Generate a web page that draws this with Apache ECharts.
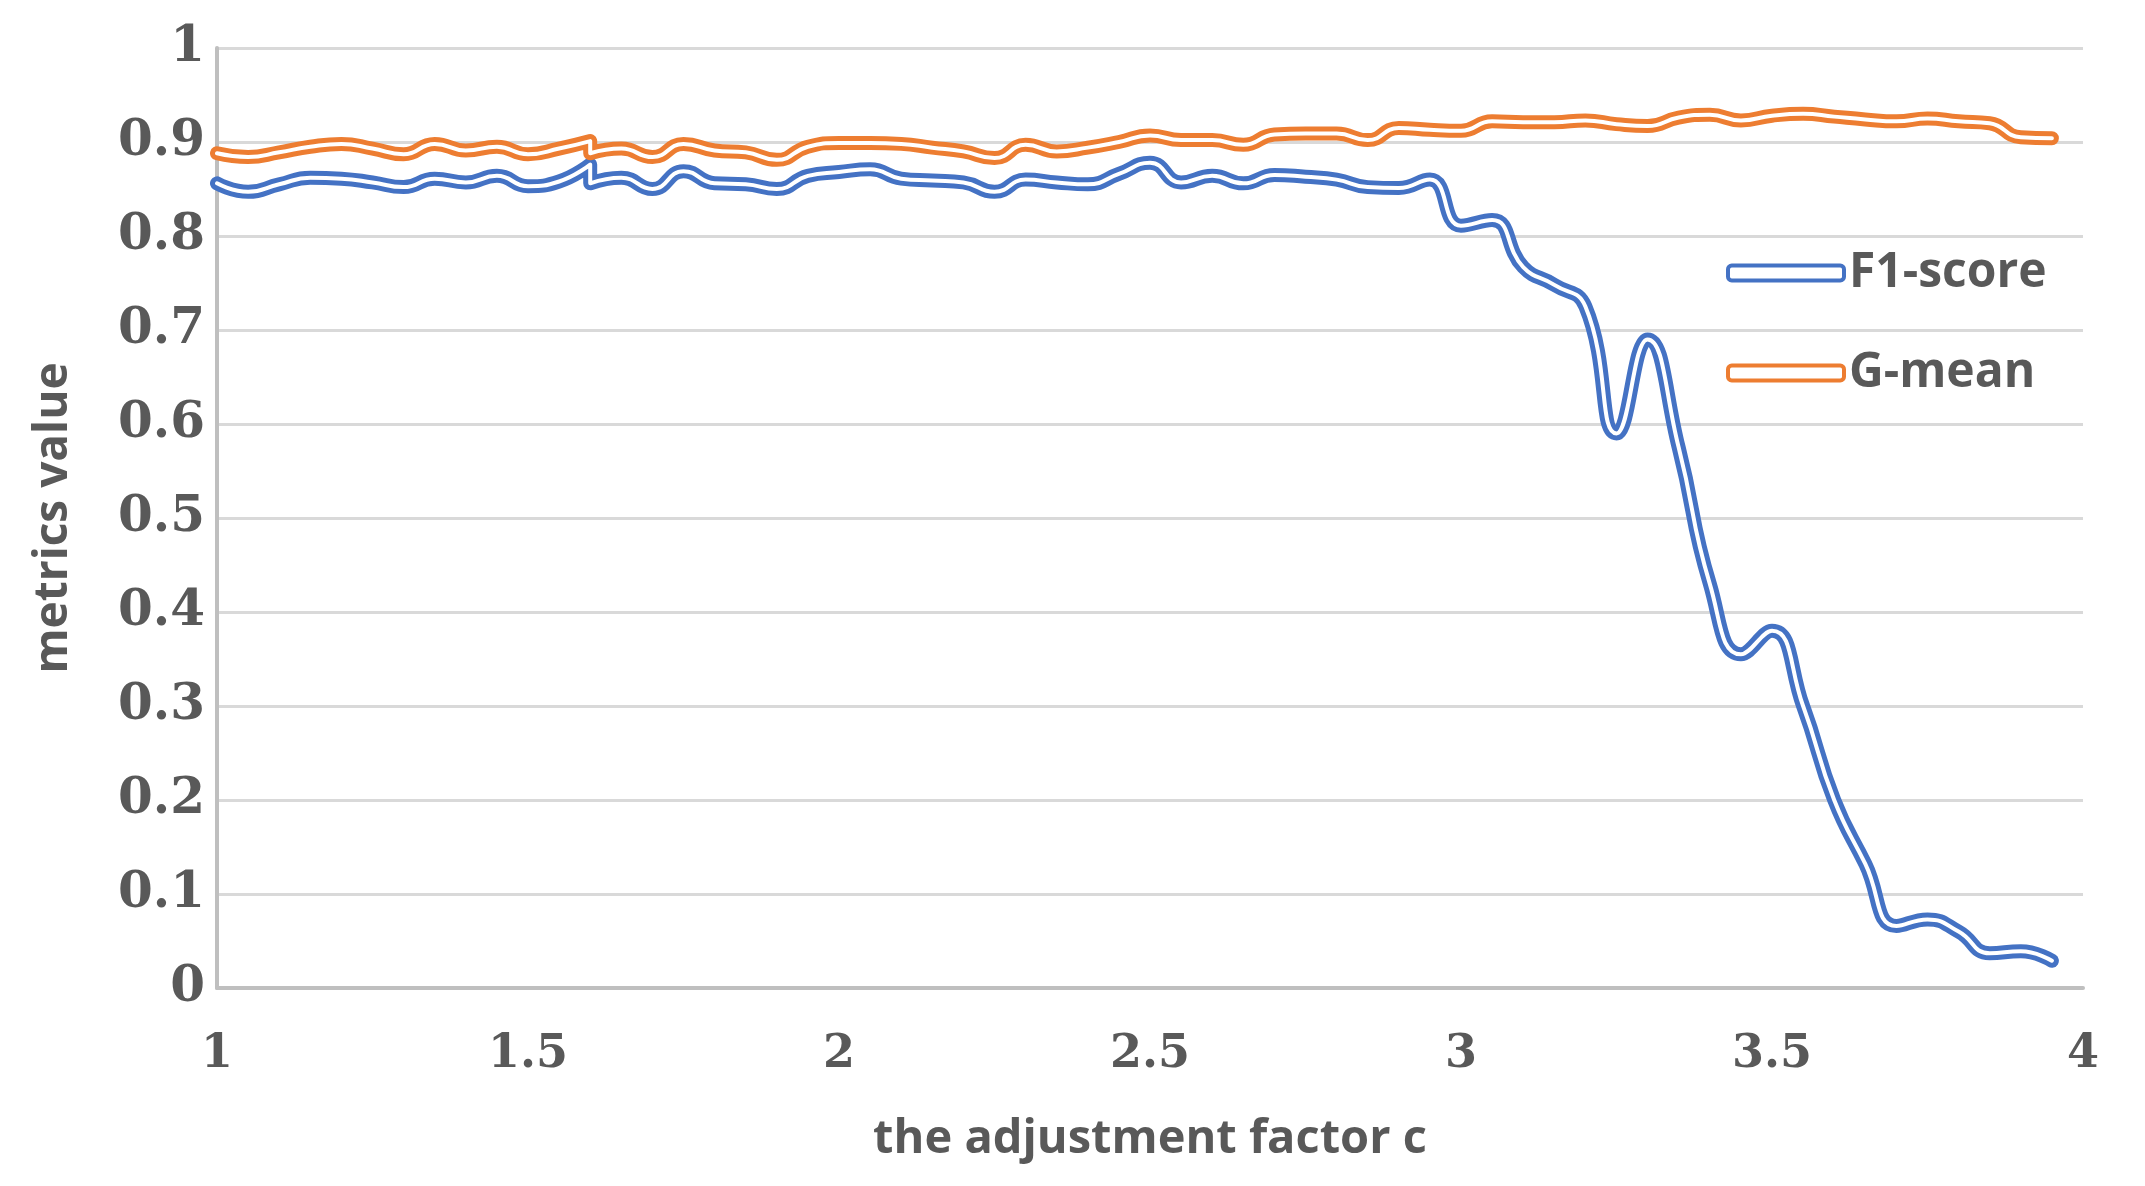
<!DOCTYPE html>
<html>
<head>
<meta charset="utf-8">
<script src="https://cdn.jsdelivr.net/npm/echarts@6/dist/echarts.min.js"></script>
<style>
html,body{margin:0;padding:0;background:#fff;}
#chart{width:2145px;height:1186px;}
</style>
</head>
<body>
<div id="chart"></div>
<script>
// adjustment factor c (1.6 appears twice, which makes the small curl in the reference)
const xValues = [1.00,1.05,1.10,1.15,1.20,1.25,1.30,1.35,1.40,1.45,1.50,1.55,1.60,1.60,1.65,1.70,1.75,1.80,1.85,1.90,1.95,2.00,2.05,2.10,2.15,2.20,2.25,2.30,2.35,2.40,2.45,2.50,2.55,2.60,2.65,2.70,2.75,2.80,2.85,2.90,2.95,3.00,3.05,3.10,3.15,3.20,3.25,3.30,3.35,3.40,3.45,3.50,3.55,3.60,3.65,3.70,3.75,3.80,3.85,3.90,3.95];
const f1Score = [0.856,0.847,0.855,0.862,0.861,0.857,0.852,0.861,0.857,0.864,0.853,0.858,0.876,0.856,0.862,0.850,0.869,0.856,0.855,0.850,0.864,0.868,0.871,0.861,0.859,0.857,0.847,0.860,0.857,0.855,0.866,0.878,0.857,0.864,0.856,0.865,0.863,0.860,0.852,0.851,0.860,0.811,0.817,0.767,0.748,0.725,0.590,0.690,0.575,0.430,0.355,0.380,0.300,0.200,0.132,0.066,0.073,0.060,0.037,0.039,0.029];
const gMean = [0.888,0.884,0.889,0.895,0.898,0.893,0.887,0.898,0.891,0.895,0.887,0.893,0.901,0.888,0.893,0.884,0.898,0.891,0.889,0.881,0.895,0.899,0.899,0.898,0.894,0.890,0.883,0.897,0.890,0.894,0.900,0.907,0.902,0.902,0.897,0.908,0.909,0.909,0.902,0.915,0.913,0.912,0.922,0.921,0.921,0.923,0.919,0.917,0.926,0.929,0.923,0.928,0.930,0.927,0.924,0.922,0.925,0.922,0.920,0.905,0.904];
const xTickLabels = ['1','1.5','2','2.5','3','3.5','4'];
const yTickLabels = ['0','0.1','0.2','0.3','0.4','0.5','0.6','0.7','0.8','0.9','1'];
const seriesNames = ['F1-score','G-mean'];
const seriesColors = ['#4472C4','#ED7D31'];

const pairs = arr => xValues.map((x,i)=>[x,arr[i]]);
const seriesData = [pairs(f1Score), pairs(gMean)];

const series = [];
seriesNames.forEach((name,i)=>{
  series.push({
    name: name, type:'line', data: seriesData[i], smooth:0.5, showSymbol:false, symbol:'none',
    lineStyle:{color:seriesColors[i], width:14, cap:'round', join:'round'},
    itemStyle:{color:seriesColors[i]}, z:2+i*2, silent:true, animation:false
  });
  series.push({
    name: name+' (inner)', type:'line', data: seriesData[i], smooth:0.5, showSymbol:false, symbol:'none',
    lineStyle:{color:'#ffffff', width:4, cap:'round', join:'round'},
    z:3+i*2, silent:true, animation:false
  });
});

const chart = echarts.init(document.getElementById('chart'), null, {renderer:'canvas'});
chart.setOption({
  backgroundColor:'#ffffff',
  animation:false,
  grid:{left:217, right:62, top:48, bottom:198, containLabel:false},
  xAxis:{
    type:'value', min:1, max:4, interval:0.5,
    name:'the adjustment factor c', nameLocation:'middle', nameGap:128,
    nameTextStyle:{fontFamily:'Open Sans', fontWeight:'bold', fontSize:47, color:'#595959'},
    axisLine:{show:true, lineStyle:{color:'#bfbfbf', width:4}},
    axisTick:{show:false},
    splitLine:{show:false},
    axisLabel:{margin:44, fontFamily:'DejaVu Serif', fontWeight:'bold', fontSize:46, color:'#595959',
      formatter:(v)=>xTickLabels[Math.round((v-1)*2)]}
  },
  yAxis:{
    type:'value', min:0, max:1, interval:0.1,
    name:'metrics value', nameLocation:'middle', nameGap:140, nameRotate:90,
    nameTextStyle:{fontFamily:'Open Sans', fontWeight:'bold', fontSize:46, color:'#595959'},
    axisLine:{show:true, lineStyle:{color:'#bfbfbf', width:4}},
    axisTick:{show:false},
    splitLine:{show:true, lineStyle:{color:'#d9d9d9', width:3}},
    axisLabel:{margin:12, fontFamily:'DejaVu Serif', fontWeight:'bold', fontSize:50, color:'#595959',
      formatter:(v)=>yTickLabels[Math.round(v*10)]}
  },
  legend:{
    orient:'vertical', left:1721, top:244,
    itemWidth:116, itemHeight:15, itemGap:52,
    textStyle:{fontFamily:'Open Sans', fontWeight:'bold', fontSize:48, color:'#595959'},
    data: seriesNames.map((n,i)=>({name:n, icon:'roundRect',
      itemStyle:{color:'#ffffff', borderColor:seriesColors[i], borderWidth:4}}))
  },
  series: series
});
</script>
</body>
</html>
